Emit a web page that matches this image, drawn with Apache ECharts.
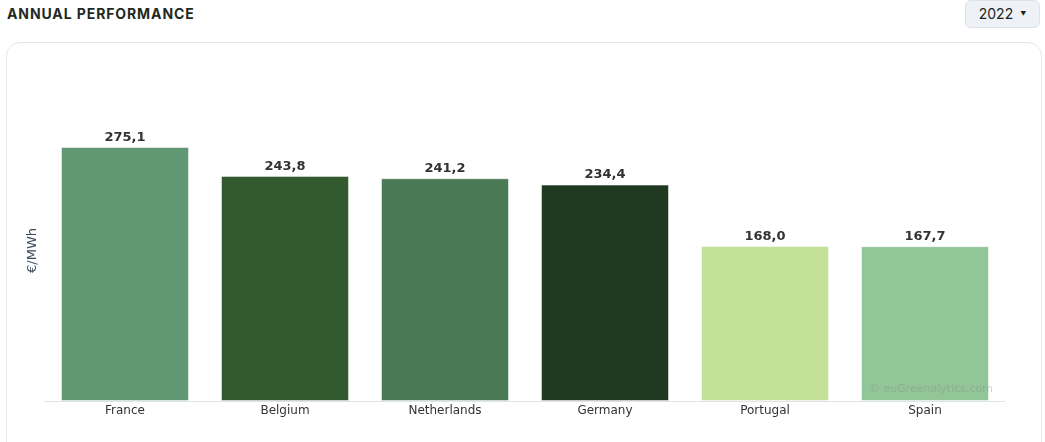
<!DOCTYPE html>
<html>
<head>
<meta charset="utf-8">
<script src="https://cdn.jsdelivr.net/npm/echarts@6/dist/echarts.min.js"></script>
<style>
    body { margin: 0; background: #fff; font-family: "Open Sans", "DejaVu Sans", sans-serif; }
    .page { position: relative; width: 1045px; height: 442px; overflow: hidden; }
    .title {
        position: absolute; left: 7px; top: 5px;
        font-family: Inter, "Open Sans", sans-serif;
        font-size: 14px; font-weight: 700; letter-spacing: 0.9px; color: #1f2a22;
    }
    .year-btn {
        position: absolute; left: 965px; top: 0px; width: 75px; height: 28px;
        box-sizing: border-box; background: #eef2f6; border: 1px solid #dde2e8; border-radius: 6px;
        font-family: Inter, "Open Sans", sans-serif; font-size: 14px; color: #222;
        line-height: 26px; text-align: center;
    }
    .year-btn span { font-size: 6px; margin-left: 7px; vertical-align: 3px; }
    .card {
        position: absolute; left: 6px; top: 42px; width: 1036px; height: 460px;
        box-sizing: border-box; border: 1px solid #e4e6eb; border-radius: 14px;
    }
    #chart { position: absolute; left: 0; top: 0; width: 1045px; height: 442px; }
</style>
</head>
<body>
<div class="page">
    <div class="title">ANNUAL PERFORMANCE</div>
    <div class="year-btn">2022<span>&#9660;</span></div>
    <div class="card"></div>
    <div id="chart"></div>
</div>
<script>
    var countries = ['France', 'Belgium', 'Netherlands', 'Germany', 'Portugal', 'Spain'];
    var prices = [275.1, 243.8, 241.2, 234.4, 168.0, 167.7];
    var barColors = ['#5f9873', '#335a2f', '#497955', '#1f3a21', '#c2e197', '#92c598'];

    var chart = echarts.init(document.getElementById('chart'));
    chart.setOption({
        animation: false,
        grid: { left: 45, right: 40, top: 124, bottom: 41 },
        xAxis: {
            type: 'category',
            data: countries,
            axisLine: { lineStyle: { color: '#e0e3e8' } },
            axisTick: { show: false },
            axisLabel: { color: '#333', fontSize: 12, margin: 4, fontFamily: 'DejaVu Sans' }
        },
        yAxis: {
            type: 'value',
            min: 0,
            max: 300,
            show: false
        },
        graphic: [
            {
                type: 'text',
                left: 26, top: 228,
                rotation: Math.PI / 2,
                style: { text: '€/MWh', fill: '#3a4a5c', font: '13px "DejaVu Sans"' }
            },
            {
                type: 'text',
                left: 869, top: 384,
                z: 100,
                style: { text: '© euGreenalytics.com', fill: 'rgba(140,140,140,0.4)', font: '11px "DejaVu Sans"' }
            }
        ],
        series: [{
            type: 'bar',
            barWidth: '80%',
            data: prices.map(function (v, i) {
                return { value: v, itemStyle: { color: barColors[i] } };
            }),
            itemStyle: { borderColor: 'rgba(255,255,255,0.5)', borderWidth: 1 },
            label: {
                show: true,
                position: 'top',
                distance: 3,
                color: '#333',
                fontSize: 13,
                fontWeight: 'bold',
                fontFamily: 'DejaVu Sans',
                formatter: function (p) { return p.value.toFixed(1).replace('.', ','); }
            }
        }]
    });
</script>
</body>
</html>
